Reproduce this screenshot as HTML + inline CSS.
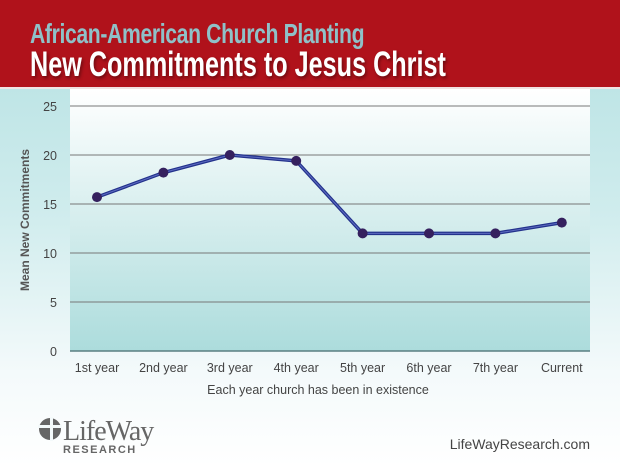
<!DOCTYPE html>
<html><head><meta charset="utf-8"><style>
body{margin:0;width:620px;height:466px;overflow:hidden;font-family:"Liberation Sans",sans-serif;}
#root{position:relative;width:620px;height:466px;background:linear-gradient(#b3e0e1 0%,#cfeced 45%,#f4fafb 80%,#ffffff 100%);}
#hdr{position:absolute;left:0;top:0;width:620px;height:87px;background:#b0121b;border-bottom:2px solid #f1e2e2;}
.t1{position:absolute;left:30px;top:18px;font-size:28px;font-weight:bold;color:#8fc1c8;transform:scaleX(0.757);transform-origin:left;letter-spacing:-0.5px;white-space:nowrap;}
.t2{position:absolute;left:30px;top:45px;font-size:35px;font-weight:bold;color:#fff;transform:scaleX(0.72);transform-origin:left;white-space:nowrap;text-shadow:2px 2px 4px rgba(0,0,0,0.4);}
</style></head><body>
<div id="root">
<div id="hdr">
<div class="t1">African-American Church Planting</div>
<div class="t2">New Commitments to Jesus Christ</div>
</div>
<svg id="svg" width="620" height="466" style="position:absolute;left:0;top:0">
<defs><linearGradient id="pg" x1="0" y1="0" x2="0" y2="1"><stop offset="0" stop-color="#ffffff"/><stop offset="1" stop-color="#acdcdc"/></linearGradient></defs>
<rect x="70" y="89" width="520" height="262" fill="url(#pg)"/>
<g id="g"></g>
<text x="29" y="220" transform="rotate(-90 29 220)" text-anchor="middle" font-size="12" font-weight="bold" fill="#555">Mean New Commitments</text>
<text x="318" y="394" text-anchor="middle" font-size="12.5" fill="#444">Each year church has been in existence</text>
<g>
<circle cx="50" cy="429" r="11" fill="#666"/>
<rect x="38" y="425" width="24" height="3" fill="#f4fafb"/><rect x="50" y="417" width="3" height="24" fill="#f4fafb"/>
<text x="63" y="440" font-family="Liberation Serif,serif" font-size="28" fill="#666" letter-spacing="-1">LifeWay</text>
<text x="63" y="453" font-size="11" font-weight="bold" fill="#666" letter-spacing="1.5">RESEARCH</text>
</g>
<text x="590" y="449" text-anchor="end" font-size="14" fill="#444">LifeWayResearch.com</text>
</svg>
</div>
<script>
const categories=["1st year","2nd year","3rd year","4th year","5th year","6th year","7th year","Current"];
const values=[15.7,18.2,20.0,19.4,12.0,12.0,12.0,13.1];
const yTicks=[0,5,10,15,20,25];
const NS="http://www.w3.org/2000/svg",g=document.getElementById("g");
const y=v=>351-v*9.8, x=i=>97+i*66.4;
function mk(t,a){const e=document.createElementNS(NS,t);for(const k in a)e.setAttribute(k,a[k]);g.appendChild(e);return e;}
yTicks.forEach(v=>{
 const l=mk("line",{x1:70,x2:590,y1:y(v),y2:y(v),stroke:v===0?"#5a7f82":"#777","stroke-width":v===0?1.5:1});
 
 
 const t=mk("text",{x:57,y:y(v)+5,"text-anchor":"end","font-size":12.5,fill:"#444"});t.textContent=v;
 
 
});
categories.forEach((c,i)=>{
 const t=mk("text",{x:x(i),y:372,"text-anchor":"middle","font-size":12.5,fill:"#444"});t.textContent=c;
 
 
});
const pts=values.map((v,i)=>x(i)+","+y(v)).join(" ");
const pl=mk("polyline",{points:pts,fill:"none",stroke:"#23328c","stroke-width":3.5,"stroke-linejoin":"round"});


mk("polyline",{points:pts,fill:"none",stroke:"#5d6bc0","stroke-width":1,"stroke-linejoin":"round"});
values.forEach((v,i)=>{
 const c=mk("circle",{cx:x(i),cy:y(v),r:5,fill:"#35205e"});
 
 
});
</script>
</body></html>
